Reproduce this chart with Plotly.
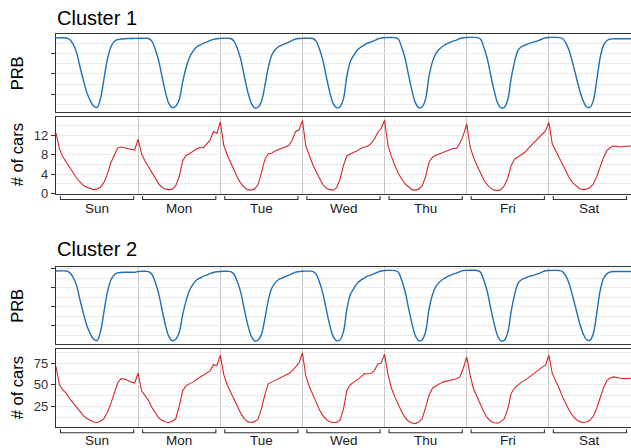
import plotly.graph_objects as go

# ---------------- data (hourly) ----------------
days = ["Sun", "Mon", "Tue", "Wed", "Thu", "Fri", "Sat"]

# Cluster 1 - PRB (arbitrary units, hidden labels)
prb1_sun = [75.0, 75.2, 75.2, 75.0, 73.5, 69.0, 61.0, 47.0, 34.0, 22.0, 14.0, 8.5, 7.5, 16.0, 35.0, 54.0, 66.0, 71.5, 73.5, 74.0, 74.3, 74.5, 74.5, 74.6]
prb1_mon = [74.6, 74.8, 74.8, 74.5, 72.0, 64.0, 53.0, 37.0, 22.0, 11.0, 7.0, 8.5, 15.0, 32.0, 46.0, 56.0, 62.0, 66.0, 68.0, 69.8, 71.0, 72.5, 73.6, 74.3]
prb1_tue = [74.6, 74.8, 74.8, 74.5, 72.0, 64.5, 54.0, 38.0, 23.0, 12.0, 7.0, 7.5, 13.0, 28.0, 46.0, 58.0, 63.5, 66.5, 68.0, 69.5, 71.0, 72.5, 74.0, 74.5]
prb1_wed = [74.6, 74.8, 74.8, 74.5, 72.0, 64.0, 53.0, 37.0, 22.0, 11.0, 7.0, 8.0, 16.0, 38.0, 52.0, 58.0, 63.0, 66.0, 68.0, 70.0, 71.0, 72.5, 74.0, 75.0]
prb1_thu = [75.3, 75.5, 75.5, 75.3, 74.0, 66.0, 55.0, 39.0, 24.0, 12.0, 7.0, 8.0, 16.0, 38.0, 52.0, 60.0, 64.0, 67.0, 69.0, 70.5, 72.0, 73.0, 74.5, 75.3]
prb1_fri = [75.5, 75.6, 75.6, 75.4, 74.0, 66.0, 55.0, 39.0, 24.0, 12.0, 7.0, 7.5, 15.0, 36.0, 52.0, 63.0, 66.5, 68.0, 69.5, 70.5, 71.5, 72.5, 74.0, 75.2]
prb1_sat = [75.5, 75.6, 75.6, 75.4, 74.5, 70.0, 62.0, 50.0, 37.0, 24.0, 14.0, 8.0, 7.5, 14.0, 34.0, 56.0, 68.0, 72.5, 74.0, 74.2, 74.2, 74.2, 74.2, 74.2]
prb1_end = [74.2]

# Cluster 1 - number of cars
cars1_sun = [12.5, 9.2, 7.6, 6.5, 5.3, 4.2, 3.2, 2.4, 1.7, 1.3, 1.0, 0.8, 0.9, 1.3, 2.3, 4.0, 6.3, 8.0, 9.4, 9.6, 9.5, 9.3, 9.1, 9.0]
cars1_mon = [11.2, 8.2, 6.7, 5.5, 4.2, 3.0, 2.0, 1.3, 0.9, 0.8, 0.9, 1.6, 3.5, 6.7, 7.9, 8.2, 8.7, 9.2, 9.5, 9.4, 10.2, 11.0, 12.8, 12.4]
cars1_tue = [14.8, 10.0, 8.0, 6.4, 4.8, 3.3, 2.1, 1.3, 0.8, 0.7, 0.9, 1.8, 4.2, 7.0, 8.2, 8.3, 8.8, 9.1, 9.4, 9.6, 9.9, 11.0, 12.8, 13.1]
cars1_wed = [15.1, 9.8, 7.8, 6.0, 4.5, 3.0, 1.8, 1.1, 0.8, 0.7, 1.2, 3.0, 5.8, 7.8, 8.1, 8.5, 8.8, 9.3, 9.6, 9.7, 10.3, 11.2, 12.6, 13.4]
cars1_thu = [15.1, 10.0, 7.6, 5.8, 4.2, 3.0, 2.0, 1.4, 0.8, 0.7, 0.9, 1.6, 3.5, 6.5, 7.5, 7.9, 8.2, 8.4, 8.8, 9.1, 9.3, 9.3, 10.4, 12.0]
cars1_fri = [14.4, 9.6, 7.4, 5.8, 4.2, 2.8, 1.8, 1.1, 0.7, 0.6, 0.8, 1.6, 3.2, 5.8, 7.1, 7.6, 8.0, 8.5, 9.3, 10.0, 10.6, 11.3, 12.0, 12.9]
cars1_sat = [14.7, 10.2, 8.8, 7.4, 6.0, 4.5, 3.2, 2.2, 1.5, 1.0, 0.8, 0.9, 1.2, 2.0, 3.5, 5.5, 7.5, 8.9, 9.5, 9.8, 9.7, 9.6, 9.7, 9.8]
cars1_end = [9.8]

# Cluster 2 - PRB
prb2_sun = [77.3, 77.5, 77.5, 77.3, 75.6, 70.8, 62.3, 47.3, 33.4, 20.5, 12.0, 6.1, 5.0, 14.1, 34.5, 54.8, 67.6, 73.5, 75.4, 75.8, 76.0, 76.0, 76.0, 76.0]
prb2_mon = [76.8, 77.0, 77.0, 76.7, 74.0, 65.5, 53.7, 36.6, 20.5, 8.8, 4.5, 6.1, 13.1, 31.2, 46.2, 56.9, 63.3, 67.6, 69.8, 71.7, 73.0, 74.6, 75.8, 76.5]
prb2_tue = [76.8, 77.0, 77.0, 76.7, 74.0, 66.0, 54.8, 37.7, 21.6, 9.8, 4.5, 5.0, 10.9, 27.0, 46.2, 59.1, 64.9, 68.2, 69.8, 71.4, 73.0, 74.6, 76.2, 76.7]
prb2_wed = [77.0, 77.2, 77.2, 76.9, 74.0, 65.5, 53.7, 36.6, 20.5, 8.8, 4.5, 5.6, 14.1, 37.7, 52.6, 59.1, 64.4, 67.6, 69.8, 71.9, 73.0, 74.6, 76.2, 77.3]
prb2_thu = [77.8, 78.0, 78.0, 77.8, 76.2, 67.6, 55.9, 38.7, 22.7, 9.8, 4.5, 5.6, 14.1, 37.7, 52.6, 61.2, 65.5, 68.7, 70.8, 72.4, 74.0, 75.1, 76.7, 77.8]
prb2_fri = [78.0, 78.1, 78.1, 77.9, 76.2, 67.6, 55.9, 38.7, 22.7, 9.8, 4.5, 5.0, 13.1, 35.5, 52.6, 64.4, 68.2, 69.8, 71.4, 72.4, 73.5, 74.6, 76.2, 77.6]
prb2_sat = [77.9, 78.0, 78.0, 77.8, 76.7, 71.9, 63.3, 50.5, 36.6, 22.7, 12.0, 5.6, 5.0, 12.0, 33.4, 56.9, 69.8, 74.6, 76.4, 76.8, 76.8, 76.8, 76.8, 76.8]
prb2_end = [76.8]

# Cluster 2 - number of cars
cars2_sun = [71.0, 50.0, 44.0, 40.0, 34.0, 29.0, 24.0, 19.0, 14.5, 11.0, 8.5, 7.0, 6.5, 8.0, 11.0, 18.0, 28.0, 41.0, 52.0, 57.0, 56.5, 55.0, 53.0, 52.0]
cars2_mon = [63.5, 43.0, 37.0, 32.0, 24.0, 18.0, 12.0, 9.0, 7.0, 6.5, 8.0, 11.0, 25.0, 43.0, 49.0, 51.0, 53.0, 56.0, 58.5, 60.0, 62.5, 66.0, 73.0, 72.0]
cars2_tue = [84.0, 62.0, 50.0, 42.0, 33.0, 25.0, 17.0, 11.0, 7.5, 6.5, 7.5, 10.0, 22.0, 38.0, 51.0, 53.0, 55.0, 57.0, 59.5, 61.0, 63.0, 66.0, 71.0, 75.0]
cars2_wed = [86.5, 60.0, 48.0, 38.0, 30.0, 21.0, 14.5, 10.0, 7.3, 6.5, 6.5, 9.5, 22.0, 44.0, 50.0, 53.0, 55.5, 58.5, 62.5, 63.0, 63.0, 66.0, 74.0, 75.0]
cars2_thu = [85.0, 62.0, 46.0, 36.0, 27.0, 19.0, 12.0, 8.0, 6.0, 5.3, 7.0, 11.0, 24.0, 38.0, 46.0, 49.0, 51.0, 53.0, 54.0, 55.0, 56.0, 57.0, 59.0, 69.0]
cars2_fri = [82.0, 61.0, 45.0, 36.0, 27.0, 19.0, 12.0, 8.0, 6.3, 5.8, 7.5, 11.0, 22.0, 40.0, 46.5, 50.0, 53.0, 55.0, 58.0, 62.0, 65.0, 68.0, 70.0, 72.5]
cars2_sat = [84.0, 63.0, 55.0, 46.0, 36.0, 27.0, 20.0, 14.0, 10.0, 7.5, 6.5, 7.0, 9.0, 14.0, 23.0, 35.0, 47.0, 55.0, 58.0, 59.0, 58.0, 57.5, 57.0, 57.5]
cars2_end = [57.5]

cars1_ticks = [0, 4, 8, 12]
cars2_ticks = [25, 50, 75]
prb1_ticks = [20, 40, 60]
prb2_ticks = [20, 40, 60, 80]

prb1 = prb1_sun + prb1_mon + prb1_tue + prb1_wed + prb1_thu + prb1_fri + prb1_sat + prb1_end
cars1 = cars1_sun + cars1_mon + cars1_tue + cars1_wed + cars1_thu + cars1_fri + cars1_sat + cars1_end
prb2 = prb2_sun + prb2_mon + prb2_tue + prb2_wed + prb2_thu + prb2_fri + prb2_sat + prb2_end
cars2 = cars2_sun + cars2_mon + cars2_tue + cars2_wed + cars2_thu + cars2_fri + cars2_sat + cars2_end
hours = list(range(len(prb1)))

# ---------------- layout helpers ----------------
W, H = 631, 448
ML, MR = 56, 0
PW = W - ML - MR


def fy(px):
    return 1 - px / H


def fx(px):
    return (px - ML) / PW


BLUE = "#1f6fb4"
RED = "#d62728"
BORDER = "#333333"
GRID = "#ebebeb"
VGRID = "#c6c6c6"
FONT = "Liberation Sans, Arial, sans-serif"

panels = [
    (34.3, 112.3, prb1, BLUE, prb1_ticks, [2.6, 78.6], 20, 10, False, "spline", 1.4),
    (116.7, 194.0, cars1, RED, cars1_ticks, [-0.1, 15.85], 4, 2, True, "linear", 1.1),
    (267.3, 344.3, prb2, BLUE, prb2_ticks, [0.8, 81.2], 20, 10, False, "spline", 1.4),
    (349.3, 427.3, cars2, RED, cars2_ticks, [1.0, 90.8], 25, 12.5, True, "linear", 1.1),
]

fig = go.Figure()
layout = dict(
    width=W, height=H,
    margin=dict(l=ML, r=MR, t=0, b=0, pad=0),
    paper_bgcolor="white", plot_bgcolor="white",
    showlegend=False,
    font=dict(family=FONT, color="#333333"),
)

for i, (top, bot, vals, col, ticks, rng, mdt, mt0, labels, shape, lw) in enumerate(panels, start=1):
    sfx = "" if i == 1 else str(i)
    fig.add_trace(go.Scatter(
        x=hours, y=vals, mode="lines",
        line=dict(color=col, width=lw, shape=shape),
        xaxis="x" + sfx, yaxis="y" + sfx, hoverinfo="skip",
    ))
    layout["xaxis" + sfx] = dict(
        domain=[0, 1], anchor="y" + sfx, range=[0, 168],
        tickvals=[24, 48, 72, 96, 120, 144], showticklabels=False, ticks="",
        showgrid=True, gridcolor=VGRID, gridwidth=1,
        showline=True, mirror=True, linecolor=BORDER, linewidth=1.2,
        zeroline=False, automargin=False, fixedrange=True,
    )
    layout["yaxis" + sfx] = dict(
        domain=[fy(bot), fy(top)], anchor="x" + sfx, range=rng,
        tickvals=ticks, showticklabels=labels, ticks="outside", ticklen=4,
        tickcolor=BORDER, tickwidth=1,
        tickfont=dict(size=13, color="#333333", family=FONT),
        showgrid=True, gridcolor=GRID, gridwidth=1,
        minor=dict(dtick=mdt, tick0=mt0, showgrid=True, gridcolor=GRID, gridwidth=1, ticks=""),
        showline=True, mirror=False, linecolor=BORDER, linewidth=1.2,
        zeroline=False, automargin=False, fixedrange=True,
    )

annotations = []
shapes = []

for txt, ypx in [("Cluster 1", 17.5), ("Cluster 2", 248.5)]:
    annotations.append(dict(text=txt, x=fx(55), y=fy(ypx), xref="paper", yref="paper",
                            xanchor="left", yanchor="middle", showarrow=False,
                            font=dict(size=20, color="#000000", family=FONT)))

for txt, top, bot in [("PRB", 34.3, 112.3), ("# of cars", 116.7, 194.0),
                      ("PRB", 267.3, 344.3), ("# of cars", 349.3, 427.3)]:
    annotations.append(dict(text=txt, x=fx(17), y=fy((top + bot) / 2), xref="paper", yref="paper",
                            xanchor="center", yanchor="middle", showarrow=False, textangle=-90,
                            font=dict(size=16.5, color="#000000", family=FONT)))

for xref, bot, lab_y in [("x2", 194.0, 208.5), ("x4", 427.3, 440.5)]:
    for d, name in enumerate(days):
        x0 = d * 24 + 1.3
        x1 = (d + 1) * 24 - 1.3
        yt = fy(bot + 2.0)
        yb = fy(bot + 5.5)
        shapes.append(dict(type="path", xref=xref, yref="paper",
                           path=f"M {x0},{yt} L {x0},{yb} L {x1},{yb} L {x1},{yt}",
                           line=dict(color=BORDER, width=1.1)))
        annotations.append(dict(text=name, x=d * 24 + 12, y=fy(lab_y), xref=xref, yref="paper",
                                xanchor="center", yanchor="middle", showarrow=False,
                                font=dict(size=13.5, color="#1a1a1a", family=FONT)))

layout["annotations"] = annotations
layout["shapes"] = shapes
fig.update_layout(**layout)

fig.write_html(
    "out.html",
    config={"displayModeBar": False},
    post_script="document.body.style.margin='0';document.body.style.overflow='hidden';",
)
